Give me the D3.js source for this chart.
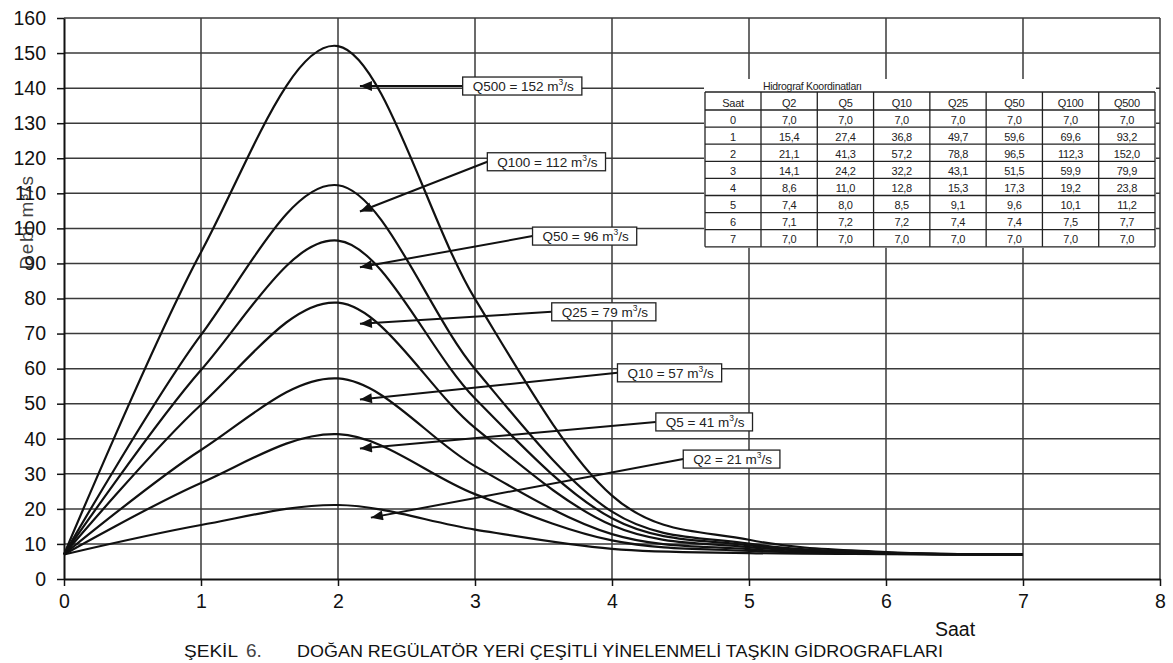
<!DOCTYPE html>
<html>
<head>
<meta charset="utf-8">
<script src="https://cdn.jsdelivr.net/npm/d3@7"></script>
<style>
  body { margin: 0; background: #fff; }
  svg { display: block; font-family: "Liberation Sans", Arial, sans-serif; }
</style>
</head>
<body>
<svg id="chart" width="1173" height="663"></svg>
<script>
// Hydrograph coordinates (hour vs discharge, m3/s)
const hours = [0, 1, 2, 3, 4, 5, 6, 7];
const seriesNames = ["Q2", "Q5", "Q10", "Q25", "Q50", "Q100", "Q500"];
const q2   = [7.0, 15.4, 21.1, 14.1, 8.6, 7.4, 7.1, 7.0];
const q5   = [7.0, 27.4, 41.3, 24.2, 11.0, 8.0, 7.2, 7.0];
const q10  = [7.0, 36.8, 57.2, 32.2, 12.8, 8.5, 7.2, 7.0];
const q25  = [7.0, 49.7, 78.8, 43.1, 15.3, 9.1, 7.4, 7.0];
const q50  = [7.0, 59.6, 96.5, 51.5, 17.3, 9.6, 7.4, 7.0];
const q100 = [7.0, 69.6, 112.3, 59.9, 19.2, 10.1, 7.5, 7.0];
const q500 = [7.0, 93.2, 152.0, 79.9, 23.8, 11.2, 7.7, 7.0];
const seriesValues = [q2, q5, q10, q25, q50, q100, q500];

// Peak discharges written in the callouts
const peakLabels = [21, 41, 57, 79, 96, 112, 152];

// Axis ticks
const xTicks = [0, 1, 2, 3, 4, 5, 6, 7, 8];
const yTicks = [0, 10, 20, 30, 40, 50, 60, 70, 80, 90, 100, 110, 120, 130, 140, 150, 160];

// Text
const tableTitle = "Hidrograf Koordinatları";
const tableHeader = ["Saat", ...seriesNames];
const xLabel = "Saat";
const yLabel = "Debi   m³/s";

// Callout layout (data coordinates): arrow tip and box anchor (left-middle)
const calloutTipX  = [2.24, 2.16, 2.16, 2.16, 2.16, 2.16, 2.16];
const calloutTipY  = [17.5, 37.2, 51.2, 72.8, 88.9, 104.8, 140.6];
const calloutBoxX  = [4.52, 4.32, 4.04, 3.56, 3.42, 3.09, 2.91];
const calloutBoxY  = [34.2, 44.8, 58.8, 76.2, 97.8, 119.0, 140.6];

const svg = d3.select("#chart");
const x = d3.scaleLinear().domain([0, 8]).range([64, 1160]);
const y = d3.scaleLinear().domain([0, 160]).range([579, 18]);

// Gridlines
const grid = svg.append("g").attr("stroke", "#3a3a3a").attr("stroke-width", 1.5);
grid.selectAll("line.h").data(yTicks.filter(d => d > 0)).join("line")
  .attr("x1", x(0)).attr("x2", x(8))
  .attr("y1", d => y(d)).attr("y2", d => y(d));
grid.selectAll("line.v").data(xTicks.filter(d => d > 0)).join("line")
  .attr("x1", d => x(d)).attr("x2", d => x(d))
  .attr("y1", y(0)).attr("y2", y(160));

// Axes
const xAxis = svg.append("g")
  .attr("transform", `translate(0,${y(0)})`)
  .call(d3.axisBottom(x).tickValues(xTicks).tickFormat(d3.format("d")).tickSizeInner(7).tickSizeOuter(0).tickPadding(8));
const yAxis = svg.append("g")
  .attr("transform", `translate(${x(0)},0)`)
  .call(d3.axisLeft(y).tickValues(yTicks).tickFormat(d3.format("d")).tickSizeInner(7).tickSizeOuter(0).tickPadding(11));
[xAxis, yAxis].forEach(a => {
  a.select(".domain").attr("stroke", "#111").attr("stroke-width", 2);
  a.selectAll(".tick line").attr("stroke", "#111").attr("stroke-width", 1.5);
  a.selectAll(".tick text").attr("fill", "#111").style("font-size", "19.5px")
    .style("font-family", "'Liberation Sans', Arial, sans-serif");
});

// Hydrograph curves
const line = d3.line()
  .x((d, i) => x(hours[i]))
  .y(d => y(d))
  .curve(d3.curveCardinal.tension(0));
svg.append("g").selectAll("path").data(seriesValues).join("path")
  .attr("d", d => line(d))
  .attr("fill", "none").attr("stroke", "#111").attr("stroke-width", 2.2);

// Coordinate table
const tLeft = 705, tRight = 1155, tTop = 92, headH = 18, rowH = 17.1;
const colW0 = 56;
const colW = (tRight - tLeft - colW0) / seriesNames.length;
const colEdges = [tLeft, ...d3.range(seriesNames.length + 1).map(i => tLeft + colW0 + i * colW)];
const tBottom = tTop + headH + rowH * hours.length;
const table = svg.append("g");
table.append("rect").attr("x", tLeft - 1).attr("y", 79).attr("width", tRight - tLeft + 2)
  .attr("height", tBottom - 79 + 1).attr("fill", "#fff");
table.append("text").attr("x", 763).attr("y", 89.5).attr("font-size", 10.5).attr("fill", "#222")
  .attr("letter-spacing", -0.3).text(tableTitle);
const rowEdges = [tTop, tTop + headH, ...hours.map((h, i) => tTop + headH + (i + 1) * rowH)];
table.append("g").attr("stroke", "#222").attr("stroke-width", 1.3)
  .selectAll("line.r").data(rowEdges).join("line")
  .attr("x1", tLeft).attr("x2", tRight).attr("y1", d => d).attr("y2", d => d);
table.append("g").attr("stroke", "#222").attr("stroke-width", 1.3)
  .selectAll("line.c").data(colEdges).join("line")
  .attr("x1", d => d).attr("x2", d => d).attr("y1", tTop).attr("y2", tBottom);
const fmt = v => v.toFixed(1).replace(".", ",");
const rows = [tableHeader, ...hours.map((h, i) => [String(h), ...seriesValues.map(s => fmt(s[i]))])];
rows.forEach((r, ri) => {
  const yb = rowEdges[ri + 1] - 3.5;
  r.forEach((cell, ci) => {
    table.append("text")
      .attr("x", (colEdges[ci] + colEdges[ci + 1]) / 2).attr("y", yb)
      .attr("text-anchor", "middle").attr("font-size", 11).attr("fill", "#222")
      .attr("letter-spacing", -0.3)
      .text(cell);
  });
});

// Callouts with arrows
svg.append("defs").append("marker")
  .attr("id", "arrowHead").attr("viewBox", "0 0 12 10").attr("refX", 12).attr("refY", 5)
  .attr("markerWidth", 13).attr("markerHeight", 10).attr("markerUnits", "userSpaceOnUse")
  .attr("orient", "auto")
  .append("path").attr("d", "M0,0 L12,5 L0,10 Z").attr("fill", "#111");

const callouts = svg.append("g");
seriesNames.forEach((name, i) => {
  const bx = x(calloutBoxX[i]), by = y(calloutBoxY[i]);
  callouts.append("line")
    .attr("x1", bx).attr("y1", by)
    .attr("x2", x(calloutTipX[i])).attr("y2", y(calloutTipY[i]))
    .attr("stroke", "#111").attr("stroke-width", 2).attr("marker-end", "url(#arrowHead)");
  const g = callouts.append("g");
  const rect = g.append("rect").attr("fill", "#fff").attr("stroke", "#222").attr("stroke-width", 1.3);
  const t = g.append("text").attr("x", bx + 10).attr("y", by + 5)
    .attr("font-size", 13.5).attr("fill", "#222");
  t.append("tspan").text(`${name} = ${peakLabels[i]} m`);
  t.append("tspan").attr("dy", -6).attr("font-size", 8.5).text("3");
  t.append("tspan").attr("dy", 6).text("/s");
  const w = t.node().getComputedTextLength();
  rect.attr("x", bx).attr("y", by - 9).attr("width", w + 18).attr("height", 18);
});

// Axis titles
svg.append("text").attr("transform", `translate(33,222) rotate(-90)`)
  .attr("text-anchor", "middle").attr("font-size", 19).attr("fill", "#222")
  .attr("opacity", 0.85).attr("letter-spacing", 1.5)
  .text(yLabel);
svg.append("text").attr("x", 955).attr("y", 636).attr("text-anchor", "middle")
  .attr("font-size", 19.5).attr("fill", "#111").text(xLabel);

// Figure caption
const cap = svg.append("text").attr("y", 657).attr("fill", "#111");
cap.append("tspan").attr("x", 184).attr("font-size", 17).attr("textLength", 54)
  .attr("lengthAdjust", "spacingAndGlyphs").text("ŞEKİL");
cap.append("tspan").attr("x", 246).attr("font-size", 19).attr("fill", "#444").text("6.");
cap.append("tspan").attr("x", 297).attr("font-size", 17).attr("textLength", 646)
  .attr("lengthAdjust", "spacingAndGlyphs")
  .text("DOĞAN REGÜLATÖR YERİ ÇEŞİTLİ YİNELENMELİ  TAŞKIN GİDROGRAFLARI");
</script>
</body>
</html>
